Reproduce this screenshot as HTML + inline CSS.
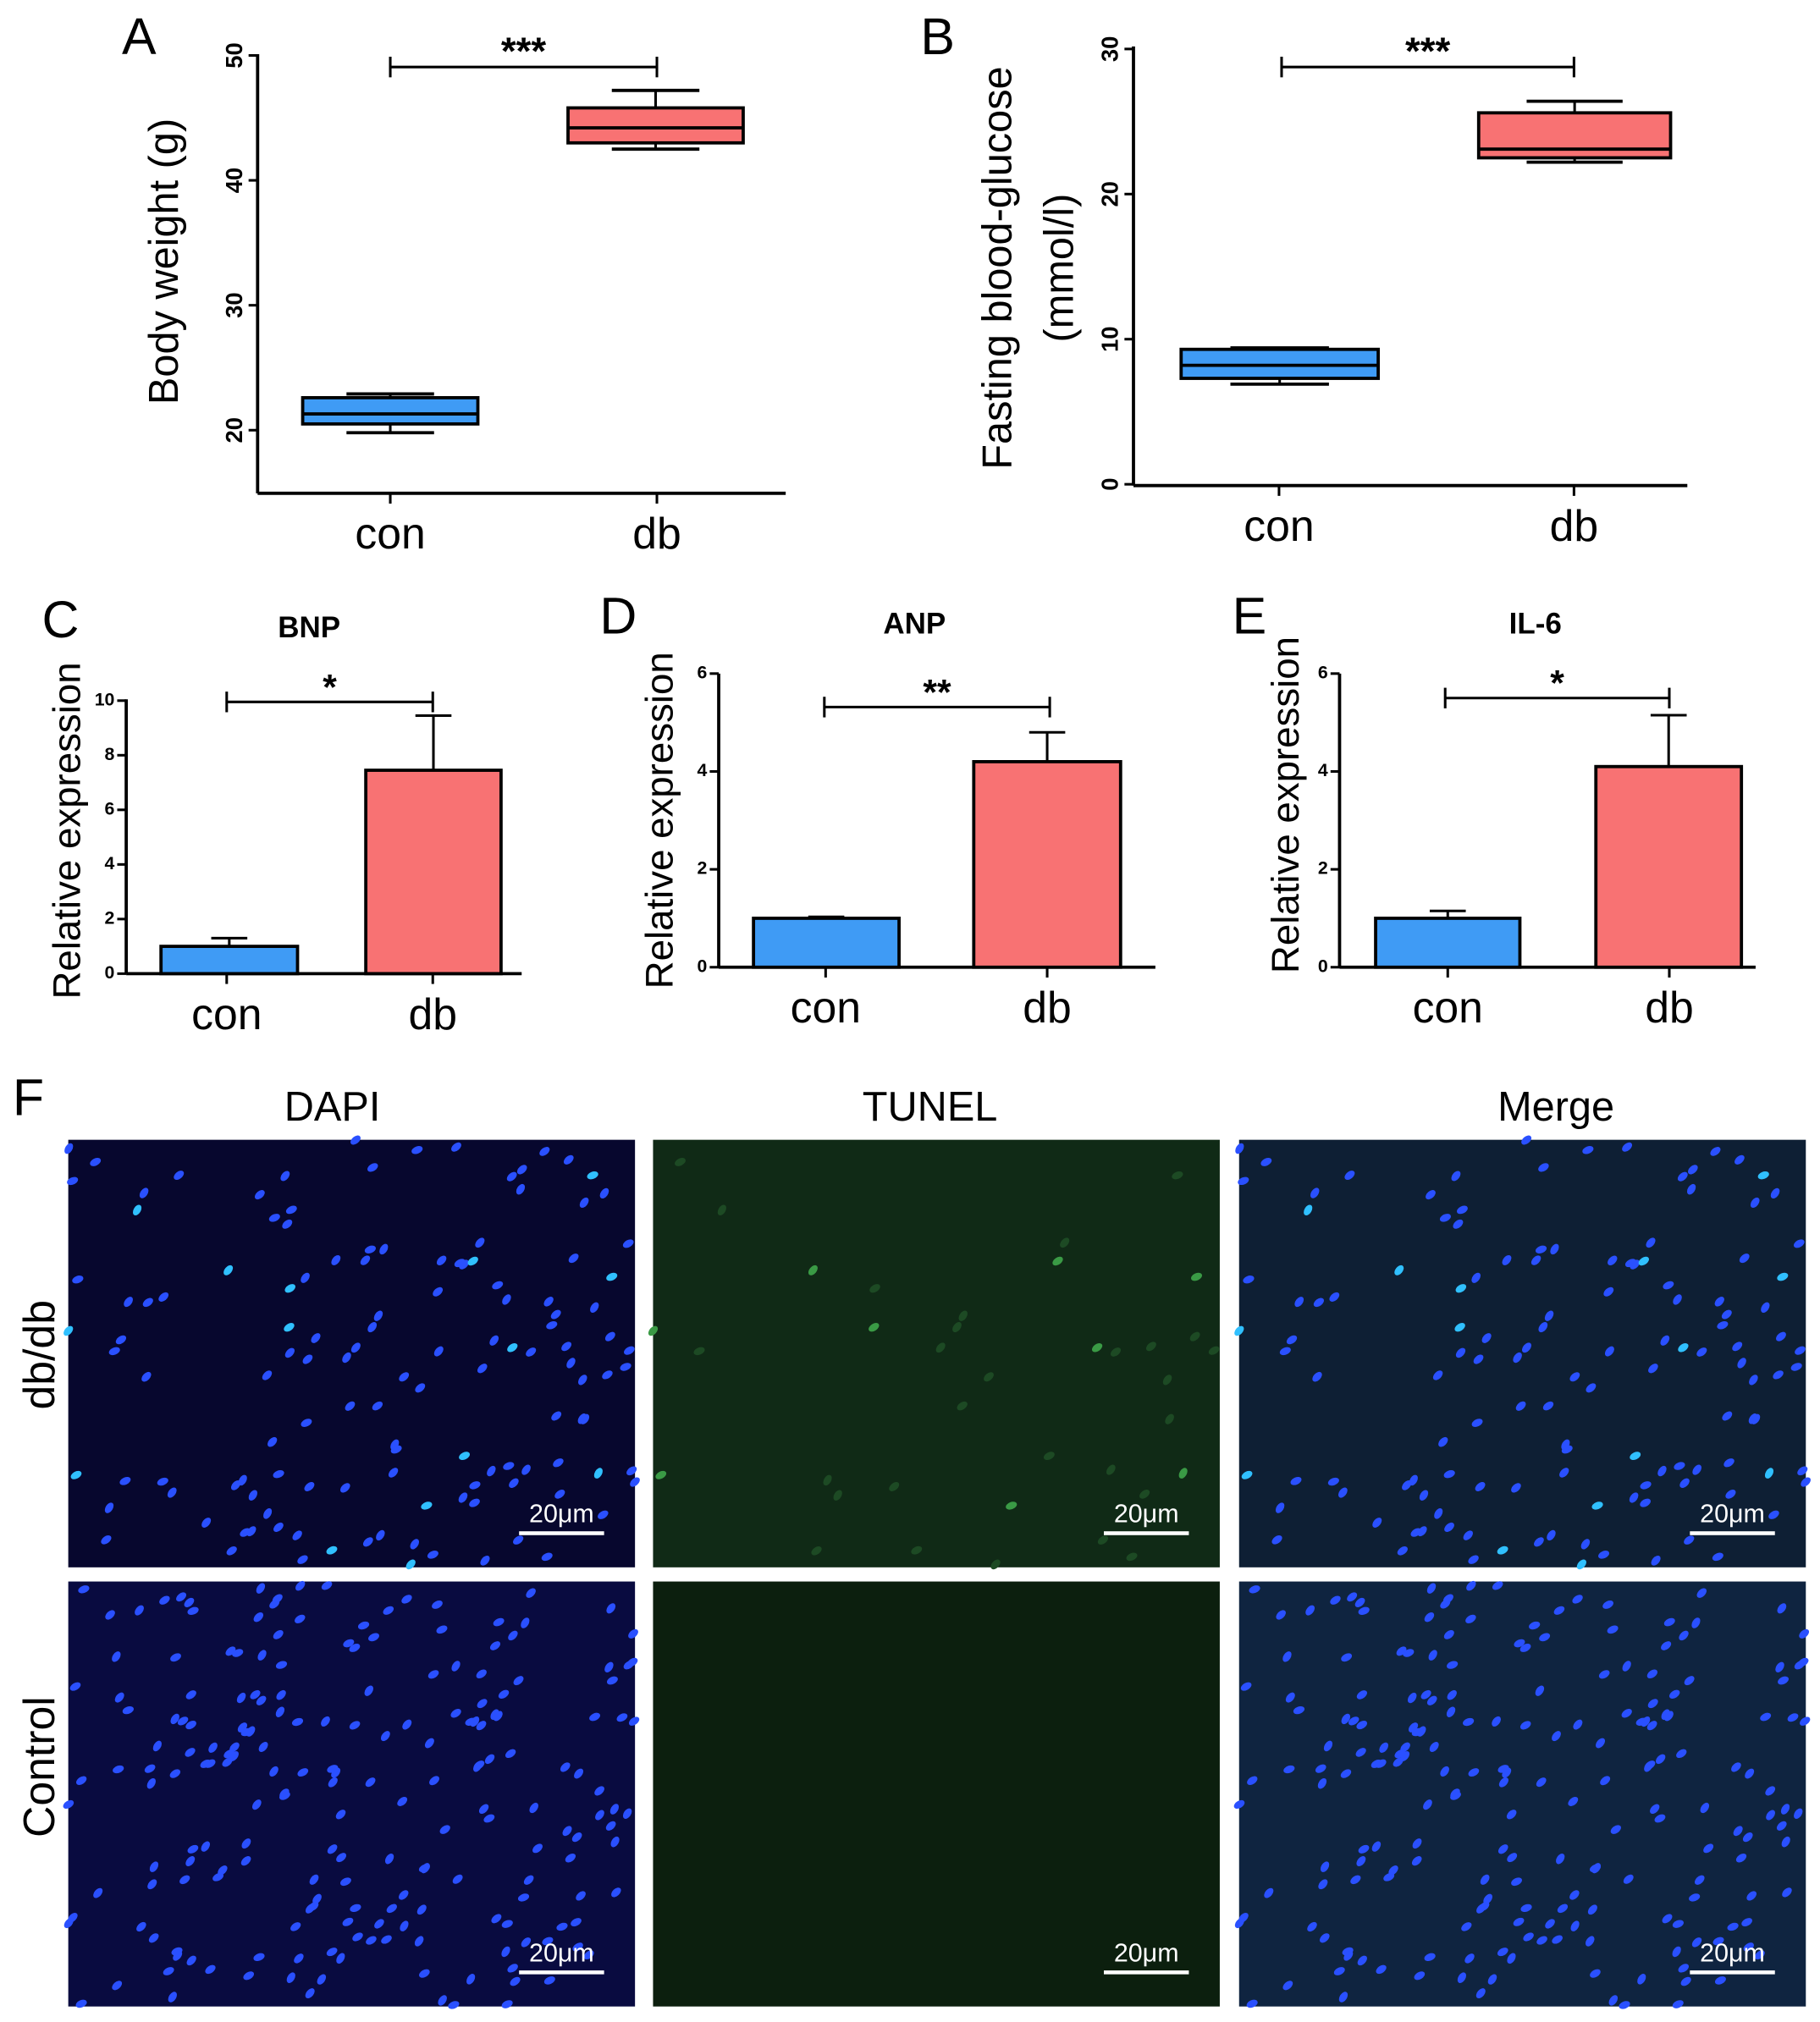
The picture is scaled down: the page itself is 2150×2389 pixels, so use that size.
<!DOCTYPE html>
<html><head><meta charset="utf-8"><style>
html,body{margin:0;padding:0;background:#fff}
svg{display:block}
text{font-family:"Liberation Sans",sans-serif}
</style></head><body>
<svg id="fig" width="2150" height="2389" viewBox="0 0 1413 1570" xmlns="http://www.w3.org/2000/svg">
<rect width="1413" height="1570" fill="#fff"/>
<g id="charts"></g>
<g id="micro"></g>
</svg>
<script>
// ---- Box plot data ----
const boxCategories = ["con","db"];
const weightBoxes = [[19.8,20.5,21.3,22.6,22.9],[42.5,43.0,44.2,45.8,47.2]];
const weightTicks = [20,30,40,50];
const glucoseBoxes = [[6.9,7.3,8.2,9.3,9.4],[22.2,22.5,23.1,25.6,26.4]];
const glucoseTicks = [0,10,20,30];
// ---- Bar data ----
const barCategories = ["con","db"];
const bnpValues = [1.0,7.45];
const bnpErrors = [0.3,2.0];
const bnpTicks = [0,2,4,6,8,10];
const anpValues = [1.0,4.2];
const anpErrors = [0.03,0.6];
const anpTicks = [0,2,4,6];
const il6Values = [1.0,4.1];
const il6Errors = [0.15,1.05];
const il6Ticks = [0,2,4,6];
const colors = ["#3f9bf5","#f87273"];

const NS="http://www.w3.org/2000/svg";
const G=document.getElementById('charts');
function el(tag,attrs,parent,txt){const e=document.createElementNS(NS,tag);for(const k in attrs)e.setAttribute(k,attrs[k]);if(txt!==undefined)e.textContent=txt;(parent||G).appendChild(e);return e;}
function line(x1,y1,x2,y2,p,w){return el('line',{x1,y1,x2,y2,stroke:'#000','stroke-width':w||2},p);}

function axes(p,cfg){
  const y=v=>cfg.y0+(v-cfg.v0)*(cfg.y1-cfg.y0)/(cfg.v1-cfg.v0);
  const ax=el('g',{},p);
  
  
  line(cfg.ax,cfg.top,cfg.ax,cfg.base,ax,2.5);
  line(cfg.ax,cfg.base,cfg.right,cfg.base,ax,2.5);
  cfg.ticks.forEach(t=>{const yy=y(t);line(cfg.ax-7,yy,cfg.ax,yy,ax,2);
    const tx=el('text',{x:cfg.ax-12,y:yy,'font-size':cfg.tfs,'font-weight':'bold','text-anchor':'middle',transform:cfg.rot?`rotate(-90 ${cfg.ax-12} ${yy})`:'' ,'dominant-baseline':cfg.rot?'auto':'middle'},ax,String(t));
    if(!cfg.rot){tx.setAttribute('text-anchor','end');tx.setAttribute('x',cfg.ax-9);}
    
    
  });
  cfg.cats.forEach((c,i)=>{line(cfg.xs[i],cfg.base,cfg.xs[i],cfg.base+8,ax,2);
    const t=el('text',{x:cfg.xs[i],y:cfg.base+43,'font-size':34,'text-anchor':'middle'},ax,c);
    
    
  });
  return y;
}
function bracket(p,x1,x2,yy,stars,size){
  const g=el('g',{},p);
  
  
  line(x1,yy,x2,yy,g,2);line(x1,yy-8,x1,yy+8,g,2);line(x2,yy-8,x2,yy+8,g,2);
  el('text',{x:(x1+x2)/2,y:yy-2,'font-size':size||30,'font-weight':'bold','text-anchor':'middle'},g,stars);
}
function label(p,x,y,txt,name,fs,rot){
  const t=el('text',{x,y,'font-size':fs,'text-anchor':'middle',transform:rot?`rotate(-90 ${x} ${y})`:''},p,txt);
  
  
  return t;
}
function boxPanel(name,cfg,data){
  const p=el('g',{});
  
  
  const y=axes(p,cfg);
  data.forEach((d,i)=>{
    const g=el('g',{},p);
    
    
    const x0=cfg.boxL[i],x1=cfg.boxR[i],cx=(x0+x1)/2,hw=(x1-x0)*0.25;
    line(cx,y(d[4]),cx,y(d[0]),g,2);
    line(cx-hw,y(d[4]),cx+hw,y(d[4]),g,2.5);line(cx-hw,y(d[0]),cx+hw,y(d[0]),g,2.5);
    el('rect',{x:x0,y:y(d[3]),width:x1-x0,height:y(d[1])-y(d[3]),fill:colors[i],stroke:'#000','stroke-width':2.5},g);
    line(x0,y(d[2]),x1,y(d[2]),g,2.5);
  });
  return p;
}
function barPanel(name,cfg,vals,errs){
  const p=el('g',{});
  
  
  const y=axes(p,cfg);
  vals.forEach((v,i)=>{
    const g=el('g',{},p);
    
    
    const x0=cfg.boxL[i],x1=cfg.boxR[i],cx=(x0+x1)/2;
    line(cx,y(v),cx,y(v+errs[i]),g,2);
    line(cx-14,y(v+errs[i]),cx+14,y(v+errs[i]),g,2);
    el('rect',{x:x0,y:y(v),width:x1-x0,height:y(0)-y(v),fill:colors[i],stroke:'#000','stroke-width':2.5},g);
  });
  return p;
}
// A
const pA=boxPanel('panel-a-body-weight',{name:'a',ax:200,top:42,base:383,right:610,y0:334,y1:43,v0:20,v1:50,ticks:weightTicks,tfs:18,rot:true,cats:boxCategories,xs:[303,510],boxL:[235,441],boxR:[371,577]},weightBoxes);
bracket(pA,303,510,52,'***',30);
label(pA,138,203,'Body weight (g)','y-axis-title',32,true);
label(pA,108,42,'A','panel-letter',40,false);
// B
const pB=boxPanel('panel-b-glucose',{name:'b',ax:880,top:36,base:377,right:1310,y0:376,y1:38,v0:0,v1:30,ticks:glucoseTicks,tfs:18,rot:true,cats:boxCategories,xs:[993,1222],boxL:[917,1148],boxR:[1070,1297]},glucoseBoxes);
bracket(pB,995,1222,52,'***',30);
label(pB,785,208,'Fasting blood-glucose','y-axis-title',32,true);
label(pB,833,208,'(mmol/l)','y-axis-title-unit',32,true);
label(pB,728,42,'B','panel-letter',40,false);
// C
const pC=barPanel('panel-c-bnp',{name:'c',ax:98,top:543,base:756,right:405,y0:756,y1:544,v0:0,v1:10,ticks:bnpTicks,tfs:14,rot:false,cats:barCategories,xs:[176,336],boxL:[125,284],boxR:[231,389]},bnpValues,bnpErrors);
bracket(pC,176,336,545,'*',28);
label(pC,240,495,'BNP','chart-title',23,false).setAttribute('font-weight','bold');
label(pC,62,645,'Relative expression','y-axis-title',30,true);
label(pC,47,495,'C','panel-letter',40,false);
// D
const pD=barPanel('panel-d-anp',{name:'d',ax:558,top:523,base:751,right:897,y0:751,y1:523,v0:0,v1:6,ticks:anpTicks,tfs:14,rot:false,cats:barCategories,xs:[641,813],boxL:[585,756],boxR:[698,870]},anpValues,anpErrors);
bracket(pD,640,815,549,'**',28);
label(pD,710,492,'ANP','chart-title',23,false).setAttribute('font-weight','bold');
label(pD,522,637,'Relative expression','y-axis-title',30,true);
label(pD,480,492,'D','panel-letter',40,false);
// E
const pE=barPanel('panel-e-il6',{name:'e',ax:1040,top:523,base:751,right:1363,y0:751,y1:523,v0:0,v1:6,ticks:il6Ticks,tfs:14,rot:false,cats:barCategories,xs:[1124,1296],boxL:[1068,1239],boxR:[1180,1352]},il6Values,il6Errors);
bracket(pE,1122,1296,542,'*',28);
label(pE,1192,492,'IL-6','chart-title',23,false).setAttribute('font-weight','bold');
label(pE,1008,625,'Relative expression','y-axis-title',30,true);
label(pE,970,492,'E','panel-letter',40,false);

// ---- Micrographs (decorative) ----
const M=document.getElementById('micro');
label(M,22,866,'F','panel-letter',40,false);
const heads=[['DAPI',258],['TUNEL',722],['Merge',1208]];
heads.forEach(h=>{label(M,h[1],870,h[0],'column-header',32,false);});
label(M,42,1052,'db/db','row-label',34,true);
label(M,42,1372,'Control','row-label',34,true);
const cols=[53,507,962],rows=[[885,1217],[1228,1558]];
const bgs=[['#07072e','#102a16','#0e1f34'],['#090b40','#0c1f0e','#0f2440']];
let seed=7;function rnd(){seed=(seed*16807)%2147483647;return seed/2147483647;}
rows.forEach((r,ri)=>cols.forEach((cx,ci)=>{
  const g=el('g',{},M);
  
  
  const w=440,h=r[1]-r[0];
  el('rect',{x:cx,y:r[0],width:w,height:h,fill:bgs[ri][ci]},g);
  seed=ri*31+11;
  const n=ri?200:130;
  for(let k=0;k<n;k++){
    const x=cx+rnd()*w,y=r[0]+rnd()*h;
    const ang=30+rnd()*40, b=rnd();
    let fill='#2a50ff';
    if(ci!==1&&ri===0&&b<0.1)fill='#30c0ff';
    if(ci===1){ if(ri===1 || b>0.25) continue; fill=b<0.06?'#3a9a45':'#1d4a24'; }
    el('ellipse',{cx:x,cy:y,rx:2.8,ry:4.5,fill,transform:`rotate(${ang} ${x} ${y})`},g);
  }
  const sx=cx+w-90,sy=r[1]-28;
  el('rect',{x:sx,y:sy,width:66,height:3,fill:'#fff'},g);
  el('text',{x:sx+33,y:sy-7,'font-size':20,fill:'#fff','text-anchor':'middle'},g,'20μm');
}));
</script>
</body></html>
